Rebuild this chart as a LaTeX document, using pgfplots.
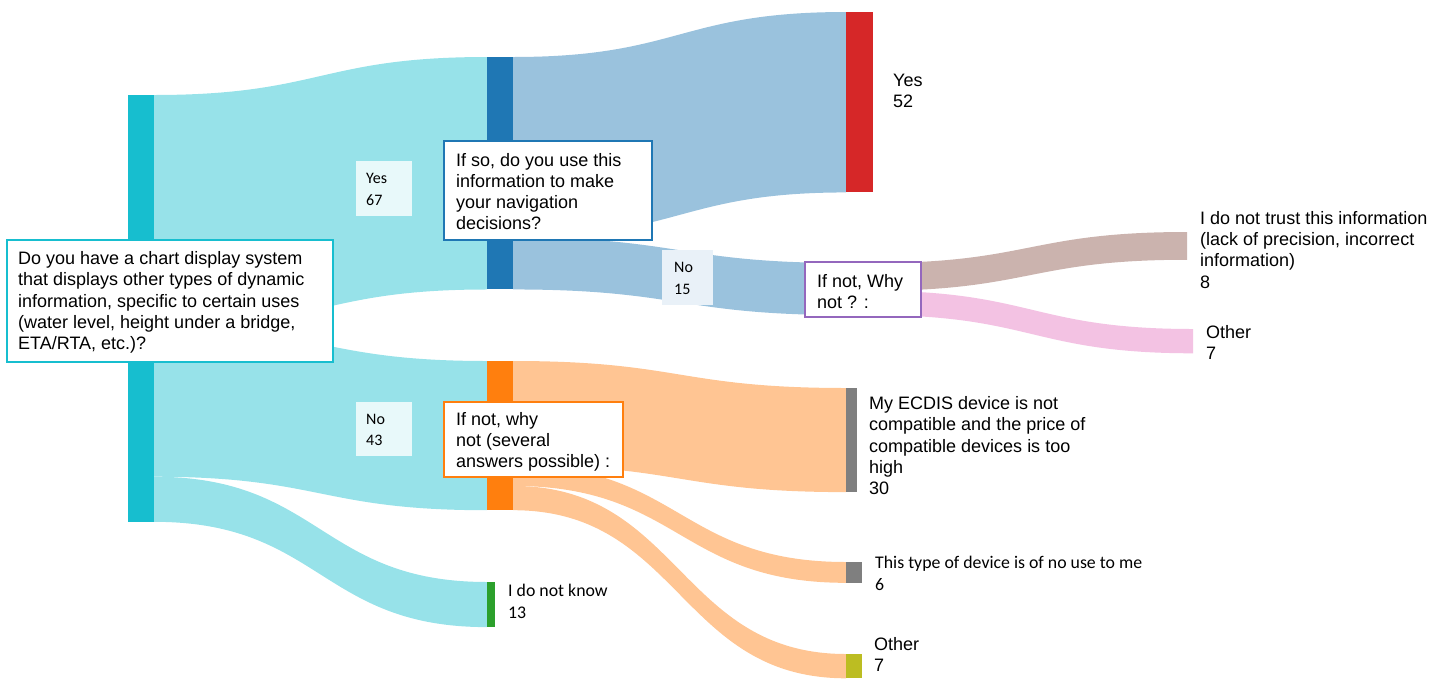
\documentclass[border=0pt]{standalone}
\usepackage{pgfplots}
\pgfplotsset{compat=1.18}
\usepackage{fontspec}
\setmainfont{Liberation Sans}
\newfontfamily\carl{Carlito}

\definecolor{cTeal}{HTML}{17BECF}
\definecolor{cBlue}{HTML}{1F77B4}
\definecolor{cRed}{HTML}{D62728}
\definecolor{cOrange}{HTML}{FF7F0E}
\definecolor{cGreen}{HTML}{2CA02C}
\definecolor{cPurple}{HTML}{9467BD}
\definecolor{cBrown}{HTML}{8C564B}
\definecolor{cPink}{HTML}{E377C2}
\definecolor{cGray}{HTML}{7F7F7F}
\definecolor{cOlive}{HTML}{BCBD22}
\colorlet{fTeal}{cTeal!45!white}
\colorlet{fBlue}{cBlue!45!white}
\colorlet{fOrange}{cOrange!45!white}
\colorlet{fBrown}{cBrown!45!white}
\colorlet{fPink}{cPink!45!white}

% pixels per respondent
\def\pxu{3.47}

% flow: colour, x source, top at source, x target, top at target, value
\newcommand{\flow}[6]{%
  \pgfmathsetmacro{\xm}{(#2+#4)/2}%
  \pgfmathsetmacro{\ba}{#3+#6*\pxu}%
  \pgfmathsetmacro{\bb}{#5+#6*\pxu}%
  \edef\doflow{\noexpand\fill[#1] (axis cs:#2,#3) .. controls (axis cs:\xm,#3) and (axis cs:\xm,#5) .. (axis cs:#4,#5)
    -- (axis cs:#4,\bb) .. controls (axis cs:\xm,\bb) and (axis cs:\xm,\ba) .. (axis cs:#2,\ba) -- cycle;}%
  \doflow}
% node bar: colour, x0, x1, top, value
\newcommand{\nodebar}[5]{%
  \pgfmathsetmacro{\bb}{#4+#5*\pxu}%
  \edef\dobar{\noexpand\fill[#1] (axis cs:#2,#4) rectangle (axis cs:#3,\bb);}%
  \dobar}

\newcommand{\fa}{\fontsize{18}{21.4}\selectfont}
\newcommand{\fc}{\carl\fontsize{17.8}{21}\selectfont}
\newcommand{\fs}{\carl\fontsize{16}{20}\selectfont}

\begin{document}
\begin{tikzpicture}
\begin{axis}[name=ax, x=1pt, y=1pt, xmin=0, xmax=1445, ymin=0, ymax=678,
  y dir=reverse, hide axis, clip=false, anchor=south west, at={(0,0)}]

% flows
\flow{fTeal}{154}{95}{487}{57}{67}
\flow{fTeal}{154}{327.5}{487}{361}{43}
\flow{fTeal}{154}{476.7}{487}{582}{13}
\flow{fBlue}{513}{57}{846}{12}{52}
\flow{fBlue}{513}{237.4}{846}{263}{15}
\flow{fBrown}{872}{263}{1187}{232}{8}
\flow{fPink}{872}{290.8}{1193}{329}{7}
\flow{fOrange}{513}{361}{846}{388}{30}
\flow{fOrange}{513}{465.1}{846}{562}{6}
\flow{fOrange}{513}{485.9}{846}{654}{7}

% nodes
\nodebar{cTeal}{128}{154}{95}{123}
\nodebar{cBlue}{487}{513}{57}{67}
\nodebar{cOrange}{487}{513}{361}{43}
\nodebar{cGreen}{487}{495}{582}{13}
\nodebar{cRed}{846}{873}{12}{52}
\nodebar{cPurple}{846}{872}{263}{15}
\nodebar{cGray}{846}{857}{388}{30}
\nodebar{cGray}{846}{862}{562}{6}
\nodebar{cOlive}{846}{862}{654}{7}

% flow labels
\fill[cTeal!10!white] (axis cs:356,161) rectangle (axis cs:412,216);
\node[anchor=base west, inner sep=0, font=\fs] at (axis cs:366,183.3) {Yes};
\node[anchor=base west, inner sep=0, font=\fs] at (axis cs:366,205) {67};
\fill[cTeal!10!white] (axis cs:356,402) rectangle (axis cs:412,456);
\node[anchor=base west, inner sep=0, font=\fs] at (axis cs:366,424) {No};
\node[anchor=base west, inner sep=0, font=\fs] at (axis cs:366,445.5) {43};
\fill[cBlue!10!white] (axis cs:662,250) rectangle (axis cs:713,305);
\node[anchor=base west, inner sep=0, font=\fs] at (axis cs:674,272.7) {No};
\node[anchor=base west, inner sep=0, font=\fs] at (axis cs:674,294) {15};

% question boxes
\draw[cTeal, line width=1.5pt, fill=white] (axis cs:7,240) rectangle (axis cs:333,362);
\node[anchor=base west, inner sep=0, font=\fa] at (axis cs:18,264.3) {Do you have a chart display system};
\node[anchor=base west, inner sep=0, font=\fa] at (axis cs:18,285.7) {that displays other types of dynamic};
\node[anchor=base west, inner sep=0, font=\fa] at (axis cs:18,307.1) {information, specific to certain uses};
\node[anchor=base west, inner sep=0, font=\fa] at (axis cs:18,328.5) {(water level, height under a bridge,};
\node[anchor=base west, inner sep=0, font=\fa] at (axis cs:18,349.9) {ETA/RTA, etc.)?};

\draw[cBlue, line width=1.5pt, fill=white] (axis cs:444,141) rectangle (axis cs:652,240);
\node[anchor=base west, inner sep=0, font=\fa] at (axis cs:456,166) {If so, do you use this};
\node[anchor=base west, inner sep=0, font=\fa] at (axis cs:456,187.2) {information to make};
\node[anchor=base west, inner sep=0, font=\fa] at (axis cs:456,208.4) {your navigation};
\node[anchor=base west, inner sep=0, font=\fa] at (axis cs:456,229.6) {decisions?};

\draw[cPurple, line width=1.5pt, fill=white] (axis cs:805,262) rectangle (axis cs:921,317);
\node[anchor=base west, inner sep=0, font=\fa] at (axis cs:817,287) {If not, Why};
\node[anchor=base west, inner sep=0, font=\fa] at (axis cs:817,308) {not ? :};

\draw[cOrange, line width=1.5pt, fill=white] (axis cs:444,402) rectangle (axis cs:623,477);
\node[anchor=base west, inner sep=0, font=\fa] at (axis cs:456,425) {If not, why};
\node[anchor=base west, inner sep=0, font=\fa] at (axis cs:456,446) {not (several};
\node[anchor=base west, inner sep=0, font=\fa] at (axis cs:456,467.3) {answers possible) :};

% answer labels
\node[anchor=base west, inner sep=0, font=\fa] at (axis cs:893,86) {Yes};
\node[anchor=base west, inner sep=0, font=\fa] at (axis cs:893,107.4) {52};

\node[anchor=base west, inner sep=0, font=\fa] at (axis cs:1200,224) {I do not trust this information};
\node[anchor=base west, inner sep=0, font=\fa] at (axis cs:1200,245.3) {(lack of precision, incorrect};
\node[anchor=base west, inner sep=0, font=\fa] at (axis cs:1200,266.6) {information)};
\node[anchor=base west, inner sep=0, font=\fa] at (axis cs:1200,288) {8};

\node[anchor=base west, inner sep=0, font=\fa] at (axis cs:1206,338.3) {Other};
\node[anchor=base west, inner sep=0, font=\fa] at (axis cs:1206,359.5) {7};

\node[anchor=base west, inner sep=0, font=\fa] at (axis cs:869,409.3) {My ECDIS device is not};
\node[anchor=base west, inner sep=0, font=\fa] at (axis cs:869,430.7) {compatible and the price of};
\node[anchor=base west, inner sep=0, font=\fa] at (axis cs:869,452.1) {compatible devices is too};
\node[anchor=base west, inner sep=0, font=\fa] at (axis cs:869,473.5) {high};
\node[anchor=base west, inner sep=0, font=\fa] at (axis cs:869,494.9) {30};

\node[anchor=base west, inner sep=0, font=\fc] at (axis cs:875,568.3) {This type of device is of no use to me};
\node[anchor=base west, inner sep=0, font=\fc] at (axis cs:875,590) {6};

\node[anchor=base west, inner sep=0, font=\fa] at (axis cs:874,650) {Other};
\node[anchor=base west, inner sep=0, font=\fa] at (axis cs:874,671) {7};

\node[anchor=base west, inner sep=0, font=\fc] at (axis cs:508,596.7) {I do not know};
\node[anchor=base west, inner sep=0, font=\fc] at (axis cs:508,618.3) {13};

\end{axis}
\pgfresetboundingbox
\path (ax.south west) rectangle (ax.north east);
\end{tikzpicture}
\end{document}
